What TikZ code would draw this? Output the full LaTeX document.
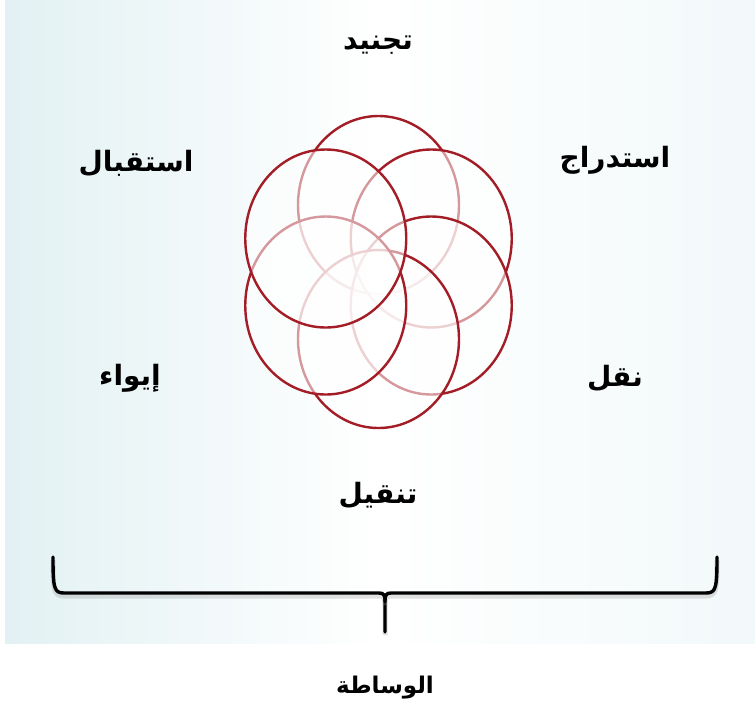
\documentclass[tikz,border=0pt]{standalone}
\usepackage{fontspec}
\newfontfamily\arabicfont[Script=Arabic]{DejaVu Sans}
\TeXXeTstate=1
\usepackage{xcolor}
\usetikzlibrary{positioning}
\definecolor{ringred}{RGB}{163,28,38}
\definecolor{bgteal}{RGB}{226,241,243}

\begin{document}
\begin{tikzpicture}[
    x=1pt, y=-1pt,
    ring/.style={draw=ringred, line width=2.4pt, fill=white, fill opacity=0.55},
    stage/.style={font=\arabicfont\bfseries\fontsize{28}{32}\selectfont, inner sep=2pt},
    caption/.style={font=\arabicfont\bfseries\fontsize{23}{27}\selectfont, inner sep=2pt},
    brace/.style={line width=3.4pt, line cap=round, line join=round,
        preaction={draw=black!40, line width=5pt, opacity=0.3, transform canvas={yshift=-3pt}}}
]
\useasboundingbox (0,0) rectangle (755,716);

% achtergrond
\shade[left color=bgteal, right color=bgteal!45, middle color=white] (5,0) rectangle (755,643);

% rozet van zes ringen
\foreach \a in {90,30,-30,-90,-150,150} {
    \draw[ring] ({378.5+60.9*cos(\a)},{272-67*sin(\a)}) ellipse [x radius=80.5pt, y radius=89pt];
}

% woorden
\node[stage] (tajnid)   at (378,45)  {\beginR تجنيد\endR};
\node[stage] (istiqbal) at (136,163) {\beginR استقبال\endR};
\node[stage] (istidraj) at (615,160) {\beginR استدراج\endR};
\node[stage] (iwaa)     at (130,378) {\beginR إيواء\endR};
\node[stage] (naql)     at (615,378) {\beginR نقل\endR};
\node[stage] (tanqil)   at (378,495) {\beginR تنقيل\endR};

% accolade
\draw[brace] (53,557) .. controls (53,588) and (54,593) .. (64,593) -- (379,593)
    .. controls (384,593) and (385,595) .. (385,602) -- (385,632);
\draw[brace] (717,557) .. controls (717,588) and (716,593) .. (706,593) -- (391,593)
    .. controls (386,593) and (385,595) .. (385,602);

\node[caption] (wasata) at (385,688) {\beginR الوساطة\endR};

\end{tikzpicture}
\end{document}
